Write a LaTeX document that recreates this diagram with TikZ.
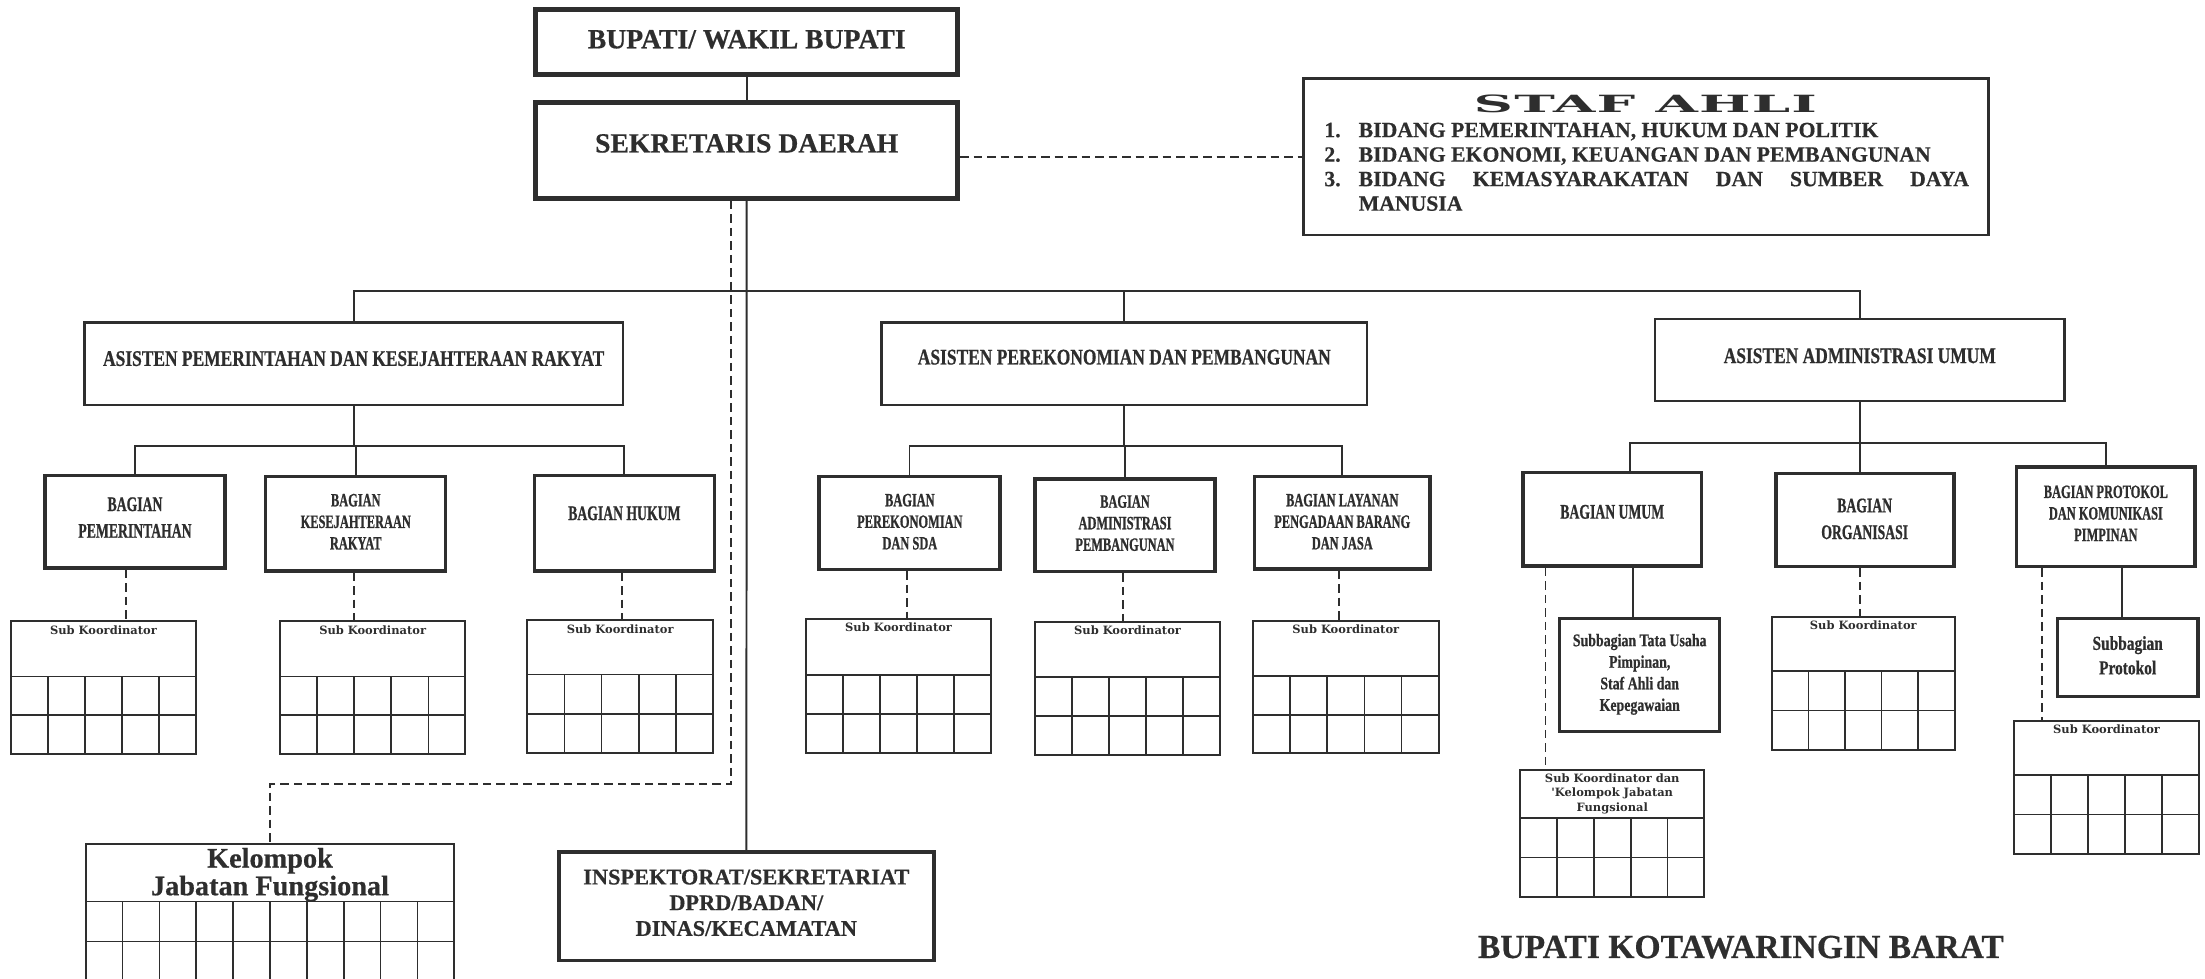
\documentclass[tikz,border=0pt]{standalone}
\usepackage{fontspec}
\setmainfont{Liberation Serif}[BoldFeatures={FakeBold=0.5}]
\newfontfamily\condfont{Liberation Serif}[FakeStretch=0.66,BoldFeatures={FakeBold=0.8}]
\newfontfamily\semifont{Liberation Serif}[FakeStretch=0.78,BoldFeatures={FakeBold=0.6}]
\newfontfamily\skfont{DejaVu Serif}
\newfontfamily\stafheadfont{DejaVu Serif}[FakeStretch=2.3,LetterSpace=5]
\usetikzlibrary{fit,calc}
\definecolor{ink}{HTML}{2E2E2E}

\tikzset{
  conn/.style={draw=ink, line width=0.35mm},
  dconn/.style={draw=ink, line width=0.35mm, dash pattern=on 1.5mm off 0.9mm},
  gridline/.style={draw=ink, line width=0.3mm},
  topbox/.style={draw=ink, line width=0.9mm, inner sep=0pt},
  stafbox/.style={draw=ink, line width=0.45mm, inner sep=0pt},
  asbox/.style={draw=ink, line width=0.45mm, inner sep=0pt},
  bagbox/.style={draw=ink, line width=0.6mm, inner sep=0pt},
  subbox/.style={draw=ink, line width=0.55mm, inner sep=0pt},
  skbox/.style={draw=ink, line width=0.35mm, inner sep=0pt},
  inspbox/.style={draw=ink, line width=0.65mm, inner sep=0pt},
  toptxt/.style={text=ink, inner sep=0pt, font=\bfseries\fontsize{14}{16}\selectfont},
  stafhead/.style={text=ink, inner sep=0pt, font=\stafheadfont\bfseries\fontsize{12}{13}\selectfont},
  staflist/.style={text=ink, inner sep=0pt, anchor=north west, align=left,
    font=\bfseries\fontsize{11}{12.4}\selectfont},
  astxt/.style={text=ink, inner sep=0pt, font=\semifont\bfseries\fontsize{11.3}{13}\selectfont},
  bagtxt/.style={text=ink, inner sep=0pt, align=center, font=\condfont\bfseries\fontsize{10.5}{13.5}\selectfont},
  bagsmall/.style={text=ink, inner sep=0pt, align=center, font=\condfont\bfseries\fontsize{9.5}{10.9}\selectfont},
  subtxt/.style={text=ink, inner sep=0pt, align=center, font=\semifont\bfseries\fontsize{9}{10.9}\selectfont},
  sktxt/.style={text=ink, inner sep=0pt, align=center, font=\skfont\bfseries\fontsize{5.8}{7.4}\selectfont},
  keltxt/.style={text=ink, inner sep=0pt, align=center, font=\bfseries\fontsize{14.3}{14}\selectfont},
  insptxt/.style={text=ink, inner sep=0pt, align=center, font=\bfseries\fontsize{11.3}{13}\selectfont},
  titletxt/.style={text=ink, inner sep=0pt, font=\bfseries\fontsize{17}{19}\selectfont}
}

\newcommand{\skgrid}[7]{%
  \node[skbox, fit={(#2,#3) (#4,#5)}] (#1) {};
  \pgfmathsetmacro{\ydiv}{#3+#6*(#5-#3)}
  \pgfmathsetmacro{\yrow}{(\ydiv+#5)/2}
  \pgfmathtruncatemacro{\ncol}{#7-1}
  \draw[gridline] (#2,\ydiv) -- (#4,\ydiv);
  \draw[gridline] (#2,\yrow) -- (#4,\yrow);
  \foreach \c in {1,...,\ncol}
    \draw[gridline] ({#2+\c*(#4-#2)/#7},\ydiv) -- ({#2+\c*(#4-#2)/#7},#5);
}

\begin{document}
\begin{tikzpicture}[x=0.25mm, y=-0.25mm]
\useasboundingbox (0,0) rectangle (1568,696);
\clip (0,0) rectangle (1568,696);
\fill[white] (0,0) rectangle (1568,696);

\node[topbox, fit={(381,7) (681,53)}] (bupati) {};
\node[toptxt] (bupatit) at (531,28) {BUPATI/ WAKIL BUPATI};
\node[topbox, fit={(381,72.6) (681,141)}] (sekda) {};
\node[toptxt] (sekdat) at (531,102) {SEKRETARIS DAERAH};
\draw[conn] (bupati) -- (sekda);

\node[stafbox, fit={(927,56) (1414,167)}] (staf) {};
\node[stafhead] (staft) at (1170,73.5) {STAF AHLI};
\node[staflist] (stafl) at (941.5,87) {%
  \makebox[6.1mm][l]{1.}BIDANG PEMERINTAHAN, HUKUM DAN POLITIK\\
  \makebox[6.1mm][l]{2.}BIDANG EKONOMI, KEUANGAN DAN PEMBANGUNAN\\
  \makebox[6.1mm][l]{3.}\parbox[t]{108.5mm}{BIDANG KEMASYARAKATAN DAN SUMBER DAYA\linebreak MANUSIA}};
\draw[dconn] (sekda.east |- 0,111.4) -- (staf.west |- 0,111.4);

\node[asbox, fit={(60,229.5) (443,288)}] (as1) {};
\node[astxt] (as1t) at (251.5,255) {ASISTEN PEMERINTAHAN DAN KESEJAHTERAAN RAKYAT};
\node[asbox, fit={(627,229.5) (972,288)}] (as2) {};
\node[astxt] (as2t) at (799.5,254) {ASISTEN PEREKONOMIAN DAN PEMBANGUNAN};
\node[asbox, fit={(1177,227) (1468,285)}] (as3) {};
\node[astxt] (as3t) at (1322.5,253) {ASISTEN ADMINISTRASI UMUM};
\coordinate (bus0) at (531,207);
\draw[conn] (as1.north) |- (bus0) -| (as3.north);
\draw[conn] (as2.north) -- (as2.north |- bus0);

\node[bagbox, fit={(32,338) (160,404)}] (b1) {};
\node[bagtxt] (b1t) at (96,368) {BAGIAN\\PEMERINTAHAN};
\node[bagbox, fit={(189,339) (317,406)}] (b2) {};
\node[bagsmall] (b2t) at (253,371) {BAGIAN\\KESEJAHTERAAN\\RAKYAT};
\node[bagbox, fit={(380,338) (508,406)}] (b3) {};
\node[bagtxt] (b3t) at (444,365) {BAGIAN HUKUM};
\coordinate (bus1) at (252,317);
\draw[conn] (as1.south) -- (as1.south |- bus1);
\draw[conn] (b1.north) |- (bus1) -| (b3.north);
\draw[conn] (b2.north) -- (b2.north |- bus1);

\node[bagbox, fit={(582.5,339) (711,405)}] (b4) {};
\node[bagsmall] (b4t) at (647,371) {BAGIAN\\PEREKONOMIAN\\DAN SDA};
\node[bagbox, fit={(736,340.6) (864,406.5)}] (b5) {};
\node[bagsmall] (b5t) at (800,372) {BAGIAN\\ADMINISTRASI\\PEMBANGUNAN};
\node[bagbox, fit={(892,339) (1017,404.6)}] (b6) {};
\node[bagsmall] (b6t) at (954.5,371) {BAGIAN LAYANAN\\PENGADAAN BARANG\\DAN JASA};
\coordinate (bus2) at (800,317);
\draw[conn] (as2.south) -- (as2.south |- bus2);
\draw[conn] (b4.north) |- (bus2) -| (b6.north);
\draw[conn] (b5.north) -- (b5.north |- bus2);

\node[bagbox, fit={(1083,336) (1210,402.6)}] (b7) {};
\node[bagtxt] (b7t) at (1146.5,364) {BAGIAN UMUM};
\node[bagbox, fit={(1263,336.6) (1389.5,403)}] (b8) {};
\node[bagtxt] (b8t) at (1326,369) {BAGIAN\\ORGANISASI};
\node[bagbox, fit={(1434,332) (1561,403)}] (b9) {};
\node[bagsmall] (b9t) at (1497.5,365) {BAGIAN PROTOKOL\\DAN KOMUNIKASI\\PIMPINAN};
\coordinate (bus3) at (1323,315);
\draw[conn] (as3.south) -- (as3.south |- b8.north);
\draw[conn] ($(b7.north west)!0.6!(b7.north east)$) |- (bus3) -| (b9.north);

\skgrid{sk1}{7.6}{441.6}{139.6}{536}{0.417}{5}
\skgrid{sk2}{199}{441.6}{331}{536}{0.417}{5}
\skgrid{sk3}{375}{441}{507}{535.5}{0.41}{5}
\skgrid{sk4}{573}{440}{705}{535.5}{0.417}{5}
\skgrid{sk5}{736}{442}{867.6}{537}{0.415}{5}
\skgrid{sk6}{891}{441.4}{1023}{535.7}{0.417}{5}
\skgrid{sk8}{1260}{438.5}{1390}{533.3}{0.41}{5}
\skgrid{sk9}{1432}{512.5}{1564}{607.3}{0.406}{5}
\skgrid{sk7}{1081}{547.6}{1212}{638}{0.377}{5}
\foreach \s in {sk1,sk2,sk3,sk4,sk5,sk6,sk8,sk9}
  \node[sktxt] (\s t) at ($(\s.north)+(0,7)$) {Sub Koordinator};
\node[sktxt] (sk7t) at (1146.5,564.5) {Sub Koordinator dan\\'Kelompok Jabatan\\Fungsional};

\draw[dconn] (b1.south -| 89.6,0) -- (sk1.north -| 89.6,0);
\draw[dconn] (b2.south -| 252,0) -- (sk2.north -| 252,0);
\draw[dconn] (b3.south -| 442,0) -- (sk3.north -| 442,0);
\draw[dconn] (b4.south -| 645,0) -- (sk4.north -| 645,0);
\draw[dconn] (b5.south -| 798.7,0) -- (sk5.north -| 798.7,0);
\draw[dconn] (b6.south -| 952.5,0) -- (sk6.north -| 952.5,0);
\draw[dconn] (b8.south -| 1322.7,0) -- (sk8.north -| 1322.7,0);
\draw[dconn] (b7.south -| 1099,0) -- (sk7.north -| 1099,0);
\draw[dconn] (b9.south -| 1452,0) -- (sk9.north -| 1452,0);

\node[subbox, fit={(1109,440) (1223,520.3)}] (sbtu) {};
\node[subtxt] (sbtut) at (1166,479.5) {Subbagian Tata Usaha\\Pimpinan,\\Staf Ahli dan\\Kepegawaian};
\draw[conn] (b7.south -| 1161,0) -- (sbtu.north -| 1161,0);
\node[subbox, fit={(1463,440) (1563,495)}] (sbpr) {};
\node[subtxt, font=\semifont\bfseries\fontsize{10}{12.4}\selectfont] (sbprt) at (1513,466) {Subbagian\\Protokol};
\draw[conn] (b9.south -| 1509,0) -- (sbpr.north -| 1509,0);

\skgrid{kel}{61}{600}{323}{698}{0.418}{10}
\node[keltxt] (kelt) at (192,622) {Kelompok\\Jabatan Fungsional};
\coordinate (kelturn) at (520,557.7);
\draw[dconn] (sekda.south -| kelturn) -- (kelturn) -| (kel.north);

\node[inspbox, fit={(397.5,606) (664,683)}] (insp) {};
\node[insptxt] (inspt) at (530.7,642) {INSPEKTORAT/SEKRETARIAT\\DPRD/BADAN/\\DINAS/KECAMATAN};
\draw[conn] (sekda.south) -- (insp.north);

\node[titletxt] (judul) at (1238,673.5) {BUPATI KOTAWARINGIN BARAT};
\end{tikzpicture}
\end{document}
